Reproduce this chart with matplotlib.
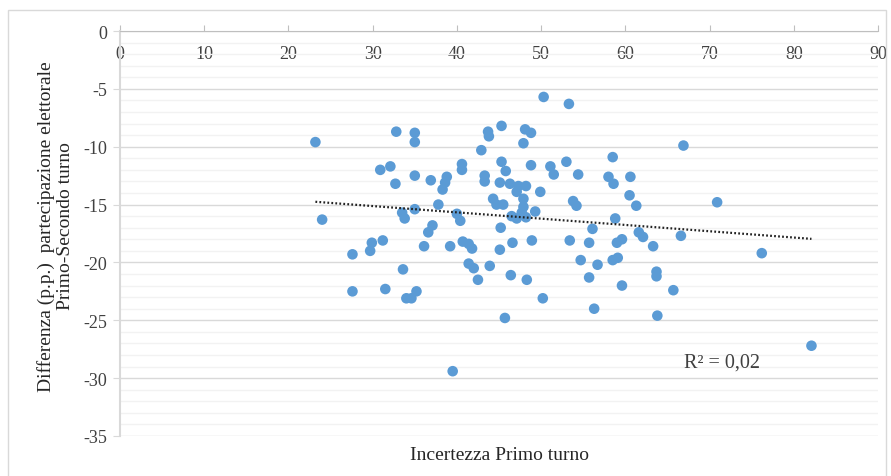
import matplotlib.pyplot as plt
import numpy as np
from matplotlib.patches import Rectangle

# Incertezza primo turno (x) and differenza partecipazione (y)
incertezza = [
    23.2, 24.0, 27.6, 27.6, 29.7, 29.9, 30.9, 31.2, 31.5, 32.1,
    32.7, 32.8, 33.5, 33.8, 33.6, 34.0, 34.6, 35.0, 35.0, 35.0,
    35.0, 35.2, 36.1, 36.6, 37.1, 36.9, 37.8, 38.3, 38.6, 38.8,
    39.2, 39.5, 40.0, 40.4, 40.6, 40.6, 40.7, 41.4, 41.8, 41.4,
    42.0, 42.5, 42.9, 43.7, 43.8, 43.3, 43.3, 43.9, 44.3, 44.7,
    45.5, 45.1, 45.1, 45.2, 45.3, 45.3, 45.8, 45.7, 46.3, 47.3,
    48.2, 47.1, 47.9, 47.9, 47.7, 46.5, 47.1, 48.2, 49.3, 49.9,
    48.1, 48.8, 47.9, 48.8, 46.6, 48.9, 46.4, 48.3, 50.2, 50.3,
    51.1, 51.5, 53.0, 53.3, 53.4, 53.8, 54.2, 54.4, 54.7, 55.7,
    55.7, 56.1, 56.7, 56.3, 58.0, 58.5, 58.6, 58.8, 58.5, 59.1,
    59.0, 59.6, 59.6, 60.6, 60.5, 61.3, 61.6, 62.1, 63.3, 63.7,
    63.7, 63.8, 65.7, 66.6, 66.9, 70.9, 76.2, 82.1,
]
differenza = [
    -9.6, -16.3, -19.3, -22.5, -19.0, -18.3, -12.0, -18.1, -22.3, -11.7,
    -13.2, -8.7, -15.7, -16.2, -20.6, -23.1, -23.1, -8.8, -9.6, -12.5,
    -15.4, -22.5, -18.6, -17.4, -16.8, -12.9, -15.0, -13.7, -13.1, -12.6,
    -18.6, -29.4, -15.8, -16.4, -11.5, -12.0, -18.2, -18.4, -18.8, -20.1,
    -20.5, -21.5, -10.3, -8.7, -9.1, -12.5, -13.0, -20.3, -14.5, -15.0,
    -15.0, -13.1, -18.9, -17.0, -8.2, -11.3, -12.1, -24.8, -13.2, -13.4,
    -13.4, -13.9, -14.5, -15.2, -15.7, -16.0, -16.2, -16.1, -15.6, -13.9,
    -8.5, -8.8, -9.7, -11.6, -18.3, -18.1, -21.1, -21.5, -23.1, -5.7,
    -11.7, -12.4, -11.3, -6.3, -18.1, -14.7, -15.1, -12.4, -19.8, -18.3,
    -21.3, -17.1, -20.2, -24.0, -12.6, -10.9, -13.2, -16.2, -19.8, -19.6,
    -18.3, -18.0, -22.0, -12.6, -14.2, -15.1, -17.4, -17.8, -18.6, -20.8,
    -21.2, -24.6, -22.4, -17.7, -9.9, -14.8, -19.2, -27.2,
]

x_ticks = [0, 10, 20, 30, 40, 50, 60, 70, 80, 90]
y_ticks = [0, -5, -10, -15, -20, -25, -30, -35]

plt.rcParams['font.family'] = ['Liberation Serif', 'DejaVu Serif']
plt.rcParams['axes.unicode_minus'] = False

fig = plt.figure(figsize=(8.91, 4.77), dpi=100)
ax = fig.add_axes([0.1347, 0.0839, 0.8507, 0.849])

# light frame around the chart area
fig.patches.append(Rectangle((8 / 891, -0.05), 878 / 891, 1.05 - 11 / 477, transform=fig.transFigure,
                             fill=False, edgecolor='#d9d9d9', linewidth=1))

ax.set_xlim(0, 90)
ax.set_ylim(-35, 0)

# horizontal grid, major and minor
ax.set_yticks(y_ticks)
ax.set_yticks(np.arange(-35, 0, 1), minor=True)
ax.yaxis.grid(True, which='major', color='#d9d9d9', linewidth=1)
ax.yaxis.grid(True, which='minor', color='#f2f2f2', linewidth=1)
ax.set_axisbelow(True)

ax.scatter(incertezza, differenza, s=58, color='#5b9bd5', edgecolors='none', zorder=3)

# linear trend
slope, intercept = np.polyfit(incertezza, differenza, 1)
xs = np.array([min(incertezza), max(incertezza)])
ax.plot(xs, slope * xs + intercept, color='#222222', linewidth=1.6, linestyle=(0, (0.8, 1.0)), zorder=4)
ax.text(71.5, -28.6, 'R² = 0,02', fontsize=14.5, color='#404040', ha='center', va='center')

# x axis sits at y = 0 (top), labels underneath it
ax.set_xticks(x_ticks)
ax.spines['bottom'].set_position(('data', 0))
ax.spines['bottom'].set_color('#bfbfbf')
ax.spines['top'].set_visible(False)
ax.spines['right'].set_visible(False)
ax.spines['left'].set_color('#d9d9d9')
ax.spines['left'].set_linewidth(1.5)
ax.tick_params(axis='x', direction='in', length=4, color='#bfbfbf', labelsize=13, labelcolor='#404040', pad=10)
ax.tick_params(axis='y', which='major', length=5, color='#d9d9d9', labelsize=13, labelcolor='#404040', pad=4)
ax.tick_params(axis='y', which='minor', length=0)

ax.set_ylabel('Differenza (p.p.)  partecipazione elettorale\nPrimo-Secondo turno', fontsize=14,
              color='#262626', linespacing=1.1)
ax.yaxis.set_label_coords(-0.061, 0.52)
ax.text(0.5, -0.045, 'Incertezza Primo turno', transform=ax.transAxes, fontsize=14,
        color='#262626', ha='center', va='center')

fig.savefig('out.png', dpi=100)
